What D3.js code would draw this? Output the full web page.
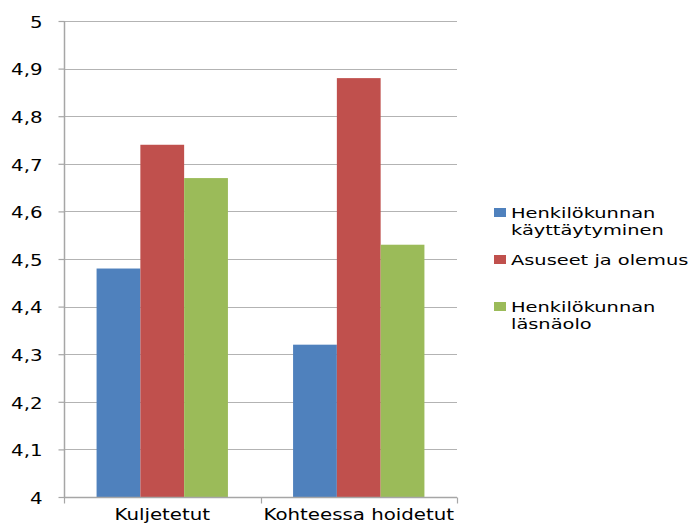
<!DOCTYPE html>
<html>
<head>
<meta charset="utf-8">
<script src="https://cdn.jsdelivr.net/npm/d3@7"></script>
<style>
  html, body { margin: 0; padding: 0; background: #fff; }
  svg text { font-family: "DejaVu Sans", sans-serif; fill: #000; }
</style>
</head>
<body>
<svg id="chart" width="688" height="524"></svg>
<script>
// Categories and series
const categories = ["Kuljetetut", "Kohteessa hoidetut"];
const seriesNames = ["Henkilökunnan käyttäytyminen", "Asuseet ja olemus", "Henkilökunnan läsnäolo"];
const seriesLegendLines = [["Henkilökunnan", "käyttäytyminen"], ["Asuseet ja olemus"], ["Henkilökunnan", "läsnäolo"]];
const seriesColors = ["#4f81bd", "#c0504d", "#9bbb59"];
const behaviourValues = [4.48, 4.32];
const appearanceValues = [4.74, 4.88];
const presenceValues = [4.67, 4.53];
const yTicks = [4, 4.1, 4.2, 4.3, 4.4, 4.5, 4.6, 4.7, 4.8, 4.9, 5];

const seriesValues = [behaviourValues, appearanceValues, presenceValues];

// Text is drawn horizontally widened
const stretch = 1.32;

const svg = d3.select("#chart");
const plot = { left: 64, right: 457, top: 21, bottom: 497 };

const y = d3.scaleLinear().domain([4, 5]).range([plot.bottom, plot.top]);
const x0 = d3.scaleBand().domain(categories).range([plot.left, plot.right]).paddingInner(0).paddingOuter(0);
const x1 = d3.scaleBand().domain(d3.range(seriesNames.length)).range([0, x0.bandwidth()]).paddingInner(0).paddingOuter(0.744);

const axisColor = "#a6a6a6";

// Horizontal gridlines
svg.append("g").selectAll("line").data(yTicks.slice(1)).join("line")
  .attr("x1", plot.left).attr("x2", plot.right)
  .attr("y1", d => Math.round(y(d)) + 0.5).attr("y2", d => Math.round(y(d)) + 0.5)
  .attr("stroke", "#b3b3b3").attr("stroke-width", 1.2);

// Bars
const groups = svg.append("g").selectAll("g").data(categories).join("g")
  .attr("transform", d => `translate(${x0(d)},0)`);
groups.selectAll("rect")
  .data((c, ci) => seriesValues.map((vals, si) => ({ si, v: vals[ci] })))
  .join("rect")
  .attr("x", d => x1(d.si))
  .attr("width", x1.bandwidth())
  .attr("y", d => y(d.v))
  .attr("height", d => y(4) - y(d.v))
  .attr("fill", d => seriesColors[d.si]);

// Y axis
const yAxis = d3.axisLeft(y).tickValues(yTicks).tickSize(6).tickPadding(14)
  .tickFormat(d => d3.format(".1~f")(d).replace(".", ","));
const gy = svg.append("g").attr("transform", `translate(${plot.left + 0.5},0)`).call(yAxis);
gy.select(".domain").attr("stroke", axisColor).attr("stroke-width", 1.5).attr("d", `M0,${plot.bottom}V${plot.top}`);
gy.selectAll(".tick line").attr("stroke", axisColor).attr("stroke-width", 1.2);
gy.selectAll(".tick text")
  .attr("font-size", 15).attr("font-family", "DejaVu Sans").attr("fill", "#000")
  .attr("x", -22 / stretch).attr("dy", "0.42em")
  .attr("transform", `scale(${stretch},1)`);

// X axis: category separators as ticks
const xAxis = d3.axisBottom(x0).tickSize(0).tickPadding(12);
const gx = svg.append("g").attr("transform", `translate(0,${plot.bottom + 0.5})`).call(xAxis);
gx.select(".domain").attr("stroke", axisColor).attr("stroke-width", 1.5).attr("d", `M${plot.left},0H${plot.right}`);
gx.selectAll(".tick text")
  .attr("font-size", 15).attr("font-family", "DejaVu Sans").attr("fill", "#000")
  .attr("transform", `scale(${stretch},1)`);
const seps = [plot.left, ...categories.map(c => x0(c) + x0.bandwidth())];
gx.append("g").selectAll("line").data(seps).join("line")
  .attr("x1", d => Math.round(d) + 0.5).attr("x2", d => Math.round(d) + 0.5)
  .attr("y1", 0).attr("y2", 6).attr("stroke", axisColor).attr("stroke-width", 1.2);

// Legend
const legendBaseline = [218, 265, 312];
const legend = svg.append("g");
seriesLegendLines.forEach((lines, i) => {
  const g = legend.append("g").attr("transform", `translate(494,${legendBaseline[i]})`);
  g.append("rect").attr("y", -10).attr("width", 12).attr("height", 9).attr("fill", seriesColors[i]);
  lines.forEach((t, li) => {
    g.append("text").attr("x", 17 / stretch).attr("y", li * 17.5)
      .attr("transform", `scale(${stretch},1)`)
      .attr("font-size", 14.7).text(t);
  });
});
</script>
</body>
</html>
